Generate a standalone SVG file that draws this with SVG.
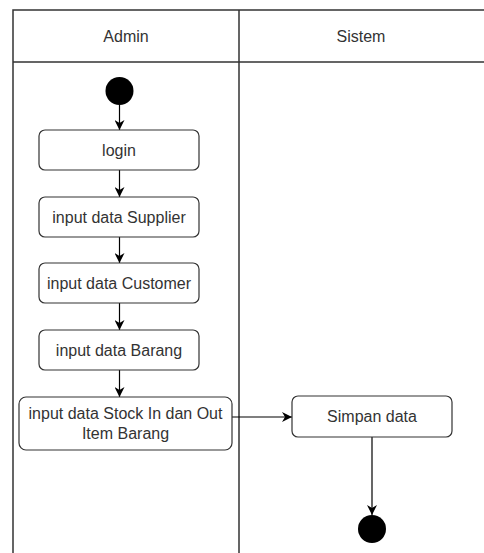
<svg xmlns="http://www.w3.org/2000/svg" width="484" height="553" viewBox="0 0 484 553">
  <defs>
    <style>
      .lane { fill: none; stroke: #333; stroke-width: 1.5; }
      .act { fill: #fff; stroke: #333; stroke-width: 1.2; }
      .lbl { font-family: "Liberation Sans", Arial, sans-serif; font-size: 16px; fill: #333; text-anchor: middle; dominant-baseline: central; }
      .edge { fill: none; stroke: #000; stroke-width: 1.2; }
      .dot { fill: #000; }
    </style>
    <marker id="arrow" viewBox="0 0 10 10" refX="10" refY="5" markerWidth="10" markerHeight="10" markerUnits="userSpaceOnUse" orient="auto">
      <path d="M0,0 L10,5 L0,10 L3,5 Z" fill="#000"/>
    </marker>
  </defs>
  <rect width="484" height="553" fill="#fff"/>

  <!-- swimlanes -->
  <g id="lanes">
    <path class="lane" d="M13,553 V10 H490 M13,62 H490 M239,10 V553"/>
    <text class="lbl" x="126" y="36">Admin</text>
    <text class="lbl" x="361" y="36">Sistem</text>
  </g>

  <!-- connectors -->
  <g id="connectors">
    <path class="edge" d="M119.5,105 V130" marker-end="url(#arrow)"/>
    <path class="edge" d="M119.5,170 V197" marker-end="url(#arrow)"/>
    <path class="edge" d="M119.5,237 V263" marker-end="url(#arrow)"/>
    <path class="edge" d="M119.5,303 V330" marker-end="url(#arrow)"/>
    <path class="edge" d="M119.5,370 V397" marker-end="url(#arrow)"/>
    <path class="edge" d="M232,417 H292" marker-end="url(#arrow)"/>
    <path class="edge" d="M372,437 V515" marker-end="url(#arrow)"/>
  </g>

  <g id="start">
    <circle class="dot" cx="119.5" cy="91" r="14"/>
  </g>
  <g id="login">
    <rect class="act" x="39" y="130" width="160" height="40" rx="6"/>
    <text class="lbl" x="119" y="150">login</text>
  </g>
  <g id="supplier">
    <rect class="act" x="39" y="197" width="160" height="40" rx="6"/>
    <text class="lbl" x="119" y="217">input data Supplier</text>
  </g>
  <g id="customer">
    <rect class="act" x="39" y="263" width="160" height="40" rx="6"/>
    <text class="lbl" x="119" y="283">input data Customer</text>
  </g>
  <g id="barang">
    <rect class="act" x="39" y="330" width="160" height="40" rx="6"/>
    <text class="lbl" x="119" y="350">input data Barang</text>
  </g>
  <g id="stock">
    <rect class="act" x="19" y="397" width="213" height="53" rx="7"/>
    <text class="lbl" x="125.5" y="413">input data Stock In dan Out</text>
    <text class="lbl" x="125.5" y="433">Item Barang</text>
  </g>
  <g id="simpan">
    <rect class="act" x="292" y="396" width="160" height="41" rx="6"/>
    <text class="lbl" x="372" y="416.5">Simpan data</text>
  </g>
  <g id="end">
    <circle class="dot" cx="372" cy="529" r="14"/>
  </g>
</svg>
